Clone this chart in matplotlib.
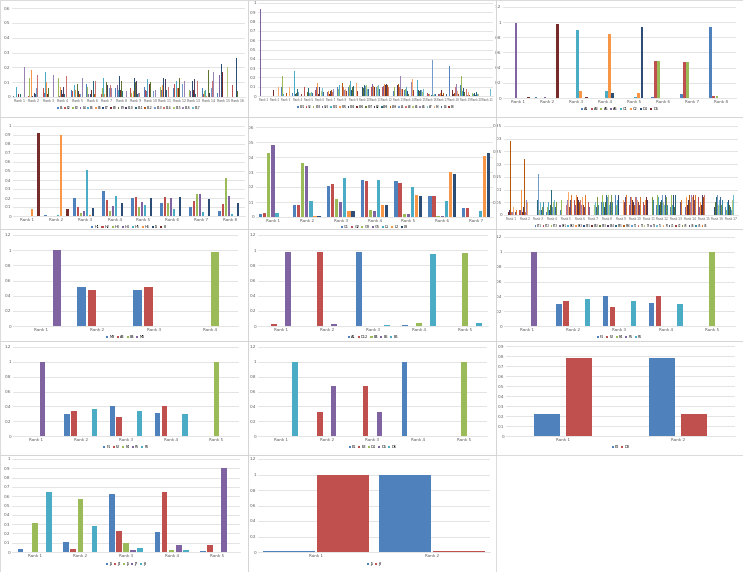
# Excel-style grid of clustered bar charts
import numpy as np
import matplotlib.pyplot as plt
from matplotlib.patches import Rectangle

W, H = 743, 572

# Excel 2010 series colours
base = ['#4F81BD', '#C0504D', '#9BBB59', '#8064A2', '#4BACC6', '#F79646']
dark = ['#2C4D75', '#772C2A', '#5F7530', '#4D3B62', '#276A7C', '#B65708']
light = ['#729ACA', '#CD7371', '#AFC97A', '#9983B5', '#6FBDD1', '#F9AB6B']
mid = ['#3C6494', '#9A3D3A', '#7A9747', '#654F84', '#3A8DA1', '#DB7A2C']
palette = base + dark + light + mid

# ---- panel 1 : 16 ranks x 17 series (rows = ranks)
p1_ranks = ['Rank %d' % i for i in range(1, 17)]
p1_labels = ['E1', 'E2', 'E3', 'E4', 'E5', 'E6', 'E7', 'E8', 'E9', 'E10',
             'E11', 'E12', 'E13', 'E14', 'E15', 'E16', 'E17']
p1_rows = [
    [0.01, 0.00, 0.04, 0.00, 0.07, 0.54, 0.00, 0.02, 0.00, 0.01, 0.02, 0.00, 0.00, 0.10, 0.00, 0.20, 0.00],
    [0.02, 0.01, 0.13, 0.01, 0.22, 0.18, 0.01, 0.01, 0.04, 0.03, 0.02, 0.00, 0.06, 0.15, 0.00, 0.19, 0.00],
    [0.00, 0.06, 0.17, 0.03, 0.17, 0.10, 0.03, 0.02, 0.06, 0.06, 0.00, 0.00, 0.00, 0.15, 0.00, 0.15, 0.00],
    [0.11, 0.02, 0.13, 0.01, 0.13, 0.07, 0.05, 0.02, 0.08, 0.07, 0.02, 0.00, 0.00, 0.14, 0.00, 0.13, 0.00],
    [0.05, 0.04, 0.11, 0.02, 0.08, 0.05, 0.01, 0.03, 0.09, 0.04, 0.05, 0.02, 0.02, 0.10, 0.00, 0.13, 0.00],
    [0.09, 0.02, 0.07, 0.02, 0.12, 0.02, 0.02, 0.05, 0.06, 0.11, 0.11, 0.02, 0.05, 0.11, 0.00, 0.09, 0.00],
    [0.06, 0.02, 0.06, 0.14, 0.13, 0.02, 0.06, 0.11, 0.10, 0.08, 0.02, 0.00, 0.06, 0.08, 0.00, 0.06, 0.00],
    [0.06, 0.03, 0.02, 0.08, 0.05, 0.03, 0.14, 0.05, 0.11, 0.11, 0.04, 0.00, 0.04, 0.07, 0.00, 0.04, 0.00],
    [0.06, 0.06, 0.03, 0.04, 0.12, 0.04, 0.13, 0.07, 0.10, 0.11, 0.02, 0.00, 0.03, 0.03, 0.00, 0.03, 0.00],
    [0.07, 0.05, 0.03, 0.04, 0.12, 0.03, 0.10, 0.09, 0.10, 0.12, 0.02, 0.00, 0.04, 0.04, 0.00, 0.05, 0.00],
    [0.08, 0.04, 0.07, 0.05, 0.12, 0.08, 0.13, 0.10, 0.08, 0.12, 0.05, 0.03, 0.06, 0.07, 0.00, 0.07, 0.00],
    [0.06, 0.09, 0.07, 0.06, 0.11, 0.06, 0.13, 0.06, 0.13, 0.07, 0.07, 0.00, 0.09, 0.08, 0.00, 0.11, 0.00],
    [0.06, 0.09, 0.05, 0.04, 0.08, 0.02, 0.11, 0.05, 0.15, 0.12, 0.02, 0.00, 0.08, 0.11, 0.00, 0.14, 0.00],
    [0.06, 0.02, 0.04, 0.11, 0.05, 0.01, 0.16, 0.08, 0.18, 0.03, 0.17, 0.00, 0.06, 0.11, 0.00, 0.17, 0.00],
    [0.03, 0.16, 0.00, 0.15, 0.00, 0.00, 0.22, 0.17, 0.05, 0.00, 0.00, 0.00, 0.00, 0.00, 0.20, 0.00, 0.00],
    [0.00, 0.08, 0.00, 0.36, 0.00, 0.00, 0.26, 0.00, 0.04, 0.00, 0.00, 0.00, 0.00, 0.00, 0.18, 0.00, 0.00],
]

# ---- panel 2 : 21 ranks x 20 series
p2_ranks = ['Rank %d' % i for i in range(1, 22)]
p2_labels = ['B01', 'V2', 'B03', 'V25', 'B02', 'B05', 'B04', 'B06', 'B07', 'A2', 'A08', 'A09',
             'A1', 'A3', 'A5', 'A6', 'A7', 'B3', 'B4', 'B8']
p2_rows = [
    [0, 0, 0.06, 0.94, 0, 0, 0, 0, 0.01, 0, 0, 0, 0, 0, 0, 0, 0, 0, 0, 0],
    [0, 0, 0, 0, 0, 0, 0.26, 0.06, 0, 0, 0, 0, 0, 0, 0.64, 0, 0, 0.10, 0, 0],
    [0.10, 0, 0.22, 0, 0.02, 0, 0, 0, 0.47, 0.14, 0, 0.03, 0.06, 0, 0, 0, 0.03, 0.10, 0, 0],
    [0.03, 0.01, 0, 0.05, 0.27, 0.05, 0.02, 0.02, 0.03, 0.01, 0.07, 0.03, 0.04, 0.10, 0.03, 0.06, 0.05, 0.24, 0.03, 0.02],
    [0.05, 0.10, 0.04, 0.08, 0.26, 0.12, 0.03, 0.06, 0.04, 0.08, 0.09, 0.15, 0.03, 0.06, 0.03, 0.05, 0.04, 0.04, 0.03, 0.02],
    [0.06, 0.06, 0.05, 0.10, 0.12, 0.14, 0.10, 0.02, 0.05, 0.10, 0.13, 0.04, 0.08, 0.12, 0.05, 0.06, 0.09, 0.06, 0.04, 0.03],
    [0.08, 0.10, 0.06, 0.04, 0.14, 0.05, 0.07, 0.02, 0.12, 0.05, 0.10, 0.06, 0.11, 0.04, 0.09, 0.07, 0.15, 0.10, 0.05, 0.04],
    [0.10, 0.04, 0.07, 0.10, 0.12, 0.08, 0.05, 0.10, 0.06, 0.10, 0.09, 0.14, 0.06, 0.10, 0.15, 0.06, 0.10, 0.08, 0.06, 0.05],
    [0.10, 0.05, 0.12, 0.09, 0.16, 0.10, 0.06, 0.12, 0.10, 0.06, 0.11, 0.13, 0.08, 0.10, 0.12, 0.09, 0.08, 0.14, 0.07, 0.05],
    [0.11, 0.10, 0.12, 0.09, 0.13, 0.11, 0.10, 0.12, 0.09, 0.10, 0.12, 0.11, 0.11, 0.09, 0.12, 0.10, 0.08, 0.11, 0.08, 0.06],
    [0.11, 0.10, 0.12, 0.13, 0.12, 0.11, 0.12, 0.10, 0.09, 0.12, 0.11, 0.12, 0.10, 0.10, 0.11, 0.09, 0.12, 0.10, 0.08, 0.07],
    [0.12, 0.10, 0.13, 0.11, 0.12, 0.13, 0.11, 0.12, 0.10, 0.13, 0.10, 0.12, 0.11, 0.10, 0.13, 0.11, 0.14, 0.18, 0.08, 0.07],
    [0.05, 0.08, 0.10, 0.14, 0.13, 0.10, 0.05, 0.09, 0.08, 0.12, 0.10, 0.13, 0.14, 0.10, 0.08, 0.21, 0.10, 0.07, 0.12, 0.08],
    [0.06, 0.04, 0.08, 0.12, 0.10, 0.14, 0.05, 0.08, 0.02, 0.05, 0.10, 0.08, 0.13, 0.10, 0.17, 0.15, 0.05, 0.18, 0.10, 0.06],
    [0.09, 0.05, 0.05, 0.10, 0.17, 0.12, 0.06, 0.04, 0.05, 0.02, 0.06, 0.04, 0.06, 0.07, 0.04, 0.12, 0.08, 0.08, 0.07, 0.05],
    [0.06, 0.03, 0.02, 0.02, 0.05, 0.02, 0.06, 0.04, 0.02, 0.01, 0.01, 0.00, 0.39, 0.02, 0.01, 0.01, 0.02, 0.01, 0.02, 0.00],
    [0.01, 0.02, 0.11, 0.02, 0.17, 0.03, 0.02, 0.06, 0.02, 0.01, 0.04, 0.03, 0.03, 0.37, 0.04, 0.02, 0.02, 0.03, 0.02, 0.01],
    [0.32, 0.03, 0.07, 0.05, 0.05, 0.22, 0.05, 0.06, 0.27, 0.02, 0.28, 0.03, 0.05, 0.10, 0.04, 0.13, 0.04, 0.05, 0.03, 0.02],
    [0.12, 0.03, 0.22, 0.13, 0.05, 0.28, 0.09, 0.27, 0.04, 0.10, 0.03, 0.02, 0.02, 0.08, 0.12, 0.01, 0.03, 0.04, 0.02, 0.01],
    [0.04, 0.28, 0.03, 0.01, 0.02, 0.26, 0.03, 0.02, 0.01, 0.02, 0.04, 0.03, 0.02, 0.03, 0.02, 0.02, 0.01, 0.02, 0.01, 0.00],
    [0.00, 0.00, 0.02, 0.00, 0.00, 0.13, 0.00, 0.00, 0.00, 0.00, 0.00, 0.00, 0.00, 0.00, 0.00, 0.76, 0.08, 0.00, 0.00, 0.00],
]

# ---- panel 3 : 8 ranks x 8 series (rows = series)
p3_ranks = ['Rank %d' % i for i in range(1, 9)]
p3_labels = ['A1', 'A3', 'A5', 'A6', 'C1', 'C2', 'D4', 'D5']
p3_series = [
    [0.00, 0.01, 0.00, 0.00, 0.00, 0.01, 0.05, 0.94],
    [0.00, 0.00, 0.00, 0.00, 0.00, 0.49, 0.47, 0.03],
    [0.00, 0.00, 0.00, 0.00, 0.00, 0.49, 0.47, 0.03],
    [0.99, 0.01, 0.00, 0.00, 0.00, 0.00, 0.00, 0.00],
    [0.00, 0.00, 0.90, 0.09, 0.01, 0.00, 0.00, 0.00],
    [0.00, 0.00, 0.09, 0.85, 0.06, 0.00, 0.00, 0.00],
    [0.00, 0.00, 0.00, 0.06, 0.93, 0.00, 0.00, 0.00],
    [0.01, 0.98, 0.01, 0.00, 0.00, 0.00, 0.00, 0.00],
]

# ---- panel 4 : 8 ranks x 8 series
p4_ranks = ['Rank %d' % i for i in range(1, 9)]
p4_labels = ['H1', 'H2', 'H3', 'H4', 'H5', 'H6', 'I1', 'I8']
p4_series = [
    [0.00, 0.01, 0.20, 0.28, 0.20, 0.15, 0.10, 0.06],
    [0.00, 0.00, 0.10, 0.18, 0.21, 0.21, 0.17, 0.13],
    [0.00, 0.00, 0.03, 0.06, 0.10, 0.15, 0.24, 0.42],
    [0.00, 0.00, 0.06, 0.11, 0.16, 0.20, 0.25, 0.22],
    [0.00, 0.01, 0.51, 0.22, 0.12, 0.08, 0.05, 0.02],
    [0.08, 0.90, 0.01, 0.00, 0.00, 0.00, 0.00, 0.00],
    [0.00, 0.00, 0.09, 0.15, 0.20, 0.21, 0.19, 0.15],
    [0.92, 0.08, 0.00, 0.00, 0.00, 0.00, 0.00, 0.00],
]

# ---- panel 5 : 7 ranks x 7 series
p5_ranks = ['Rank %d' % i for i in range(1, 8)]
p5_labels = ['G1', 'G2', 'G3', 'G5', 'L1', 'L2', 'L8']
p5_series = [
    [0.02, 0.08, 0.21, 0.25, 0.24, 0.14, 0.06],
    [0.03, 0.08, 0.22, 0.24, 0.23, 0.14, 0.06],
    [0.43, 0.36, 0.12, 0.05, 0.02, 0.01, 0.00],
    [0.48, 0.34, 0.10, 0.04, 0.02, 0.01, 0.00],
    [0.03, 0.11, 0.26, 0.25, 0.20, 0.11, 0.04],
    [0.00, 0.01, 0.04, 0.08, 0.15, 0.30, 0.41],
    [0.00, 0.01, 0.04, 0.08, 0.14, 0.29, 0.43],
]

# ---- panel 6 : 17 ranks x 24 series (rows = ranks)
p6_ranks = ['Rank %d' % i for i in range(1, 18)]
p6_labels = ['B71', 'B72', 'B73', 'B81', 'B82', 'B83', 'B91', 'B92', 'B93', 'B94', 'B95', 'B96',
             'T1', 'T2', 'T3', 'T4', 'T5', 'T6', 'U1', 'U2', 'U3', 'U4', 'U5', 'U6']
p6_rows = [
    [0.02, 0.01, 0.01, 0.27, 0.01, 0.04, 0.01, 0.01, 0.00, 0.02, 0.01, 0.29, 0.00, 0.01, 0.02, 0.01, 0.00, 0.03, 0.01, 0.00, 0.02, 0.01, 0.03, 0.02],
    [0.00, 0.02, 0.07, 0.02, 0.00, 0.10, 0.00, 0.01, 0.02, 0.03, 0.21, 0.22, 0.02, 0.01, 0.03, 0.06, 0.04, 0.05, 0.01, 0.00, 0.02, 0.01, 0.03, 0.04],
    [0.00, 0.02, 0.03, 0.04, 0.00, 0.13, 0.00, 0.02, 0.03, 0.04, 0.06, 0.15, 0.16, 0.04, 0.02, 0.09, 0.05, 0.06, 0.02, 0.01, 0.03, 0.04, 0.05, 0.06],
    [0.01, 0.02, 0.03, 0.03, 0.05, 0.13, 0.02, 0.03, 0.04, 0.05, 0.10, 0.12, 0.03, 0.04, 0.05, 0.09, 0.06, 0.07, 0.03, 0.02, 0.05, 0.06, 0.04, 0.08],
    [0.02, 0.03, 0.06, 0.05, 0.07, 0.12, 0.03, 0.04, 0.06, 0.05, 0.08, 0.09, 0.05, 0.04, 0.07, 0.06, 0.07, 0.09, 0.04, 0.03, 0.05, 0.06, 0.07, 0.08],
    [0.03, 0.06, 0.07, 0.04, 0.08, 0.08, 0.03, 0.07, 0.05, 0.06, 0.07, 0.05, 0.08, 0.06, 0.05, 0.04, 0.08, 0.07, 0.05, 0.04, 0.08, 0.03, 0.06, 0.08],
    [0.04, 0.05, 0.08, 0.03, 0.07, 0.08, 0.06, 0.05, 0.04, 0.07, 0.08, 0.06, 0.08, 0.05, 0.04, 0.07, 0.05, 0.08, 0.03, 0.06, 0.07, 0.05, 0.04, 0.08],
    [0.05, 0.04, 0.08, 0.06, 0.05, 0.08, 0.03, 0.08, 0.05, 0.06, 0.08, 0.04, 0.07, 0.05, 0.08, 0.06, 0.04, 0.07, 0.05, 0.03, 0.08, 0.06, 0.05, 0.08],
    [0.08, 0.05, 0.04, 0.08, 0.06, 0.03, 0.08, 0.05, 0.08, 0.04, 0.06, 0.08, 0.05, 0.03, 0.07, 0.08, 0.04, 0.06, 0.08, 0.05, 0.03, 0.07, 0.06, 0.08],
    [0.07, 0.04, 0.06, 0.07, 0.05, 0.07, 0.04, 0.06, 0.07, 0.05, 0.07, 0.04, 0.06, 0.07, 0.05, 0.07, 0.04, 0.06, 0.07, 0.05, 0.07, 0.04, 0.06, 0.07],
    [0.06, 0.05, 0.07, 0.04, 0.07, 0.06, 0.05, 0.07, 0.04, 0.06, 0.07, 0.05, 0.07, 0.04, 0.06, 0.07, 0.05, 0.07, 0.04, 0.06, 0.07, 0.05, 0.06, 0.07],
    [0.04, 0.06, 0.08, 0.05, 0.07, 0.06, 0.04, 0.08, 0.05, 0.07, 0.06, 0.04, 0.08, 0.06, 0.05, 0.07, 0.04, 0.06, 0.08, 0.05, 0.07, 0.06, 0.04, 0.07],
    [0.03, 0.05, 0.08, 0.06, 0.04, 0.07, 0.08, 0.05, 0.03, 0.07, 0.08, 0.06, 0.04, 0.08, 0.05, 0.07, 0.03, 0.08, 0.06, 0.04, 0.07, 0.05, 0.08, 0.06],
    [0.05, 0.08, 0.06, 0.03, 0.08, 0.07, 0.05, 0.04, 0.08, 0.06, 0.03, 0.08, 0.07, 0.05, 0.04, 0.08, 0.06, 0.07, 0.03, 0.08, 0.05, 0.06, 0.04, 0.08],
    [0.04, 0.07, 0.08, 0.03, 0.07, 0.05, 0.08, 0.04, 0.06, 0.08, 0.03, 0.07, 0.05, 0.08, 0.04, 0.08, 0.06, 0.03, 0.08, 0.05, 0.07, 0.04, 0.06, 0.05],
    [0.03, 0.05, 0.06, 0.04, 0.08, 0.06, 0.03, 0.10, 0.05, 0.04, 0.07, 0.03, 0.08, 0.05, 0.04, 0.08, 0.06, 0.03, 0.07, 0.05, 0.04, 0.08, 0.06, 0.05],
    [0.03, 0.04, 0.02, 0.07, 0.05, 0.03, 0.06, 0.10, 0.04, 0.05, 0.03, 0.04, 0.02, 0.07, 0.06, 0.04, 0.08, 0.09, 0.10, 0.03, 0.05, 0.06, 0.04, 0.02],
]

# ---- panels 7-14 (rows = series)
p7_ranks = ['Rank 1', 'Rank 2', 'Rank 3', 'Rank 4']
p7_labels = ['M3', 'A4', 'B4', 'M5']
p7_series = [[0, 0.52, 0.47, 0], [0, 0.47, 0.52, 0], [0, 0, 0, 0.98], [1.0, 0, 0, 0]]

p8_ranks = ['Rank 1', 'Rank 2', 'Rank 3', 'Rank 4', 'Rank 5']
p8_labels = ['A1', 'D12', 'B4', 'B5', 'B6']
p8_series = [[0, 0, 0.98, 0.01, 0], [0.03, 0.97, 0, 0, 0], [0, 0, 0, 0.04, 0.96],
             [0.97, 0.03, 0, 0, 0], [0, 0, 0.01, 0.95, 0.04]]

p9_ranks = ['Rank 1', 'Rank 2', 'Rank 3', 'Rank 4', 'Rank 5']
p9_labels = ['F1', 'F2', 'F4', 'F5', 'F6']
p9_series = [[0, 0.29, 0.40, 0.31, 0], [0, 0.34, 0.26, 0.40, 0], [0, 0, 0, 0, 1.0],
             [1.0, 0, 0, 0, 0], [0, 0.37, 0.34, 0.29, 0]]

p10_ranks = ['Rank 1', 'Rank 2', 'Rank 3', 'Rank 4', 'Rank 5']
p10_labels = ['F1', 'F2', 'F4', 'F5', 'F6']
p10_series = [[0, 0.29, 0.40, 0.31, 0], [0, 0.34, 0.26, 0.40, 0], [0, 0, 0, 0, 1.0],
              [1.0, 0, 0, 0, 0], [0, 0.37, 0.34, 0.29, 0]]

p11_ranks = ['Rank 1', 'Rank 2', 'Rank 3', 'Rank 4', 'Rank 5']
p11_labels = ['E1', 'E3', 'D4', 'D5', 'D6']
p11_series = [[0, 0, 0, 1.0, 0], [0, 0.32, 0.68, 0, 0], [0, 0, 0, 0, 1.0],
              [0, 0.68, 0.32, 0, 0], [1.0, 0, 0, 0, 0]]

p12_ranks = ['Rank 1', 'Rank 2']
p12_labels = ['E2', 'D8']
p12_series = [[0.22, 0.78], [0.78, 0.22]]

p13_ranks = ['Rank 1', 'Rank 2', 'Rank 3', 'Rank 4', 'Rank 5']
p13_labels = ['J1', 'J4', 'J5', 'J7', 'J8']
p13_series = [[0.03, 0.11, 0.62, 0.21, 0.01], [0.00, 0.03, 0.23, 0.65, 0.07],
              [0.31, 0.57, 0.10, 0.02, 0.00], [0.00, 0.00, 0.02, 0.08, 0.90],
              [0.65, 0.28, 0.04, 0.02, 0.00]]

p14_ranks = ['Rank 1', 'Rank 2']
p14_labels = ['J5', 'J8']
p14_series = [[0.01, 1.0], [1.0, 0.01]]


fig = plt.figure(figsize=(W / 100, H / 100), dpi=100)
fig.patch.set_facecolor('white')

# light frames round each tile
for x0, x1 in [(0, 248), (248, 496), (496, 743)]:
    for y0, y1 in [(0, 117), (117, 229), (229, 341), (341, 455), (455, 572)]:
        if x0 == 496 and y0 == 455:
            continue
        fig.add_artist(Rectangle((x0 / W, 1 - y1 / H), (x1 - x0) / W, (y1 - y0) / H,
                                 transform=fig.transFigure, fill=False,
                                 edgecolor='#D4D4D4', lw=0.6))


def panel(box, ranks, labels, series, ymax, ystep, leg_y, span=0.85, fill=0.8,
          xfs=3, lfs=2.5):
    x0, y0, x1, y1 = box
    ax = fig.add_axes([x0 / W, 1 - y1 / H, (x1 - x0) / W, (y1 - y0) / H])
    n = len(series)
    sp = span / n
    xs = np.arange(len(ranks))
    for i, vals in enumerate(series):
        ax.bar(xs + (i - (n - 1) / 2) * sp, vals, sp * fill,
               color=palette[i % len(palette)], label=labels[i], lw=0)
    ax.set_xlim(-0.5, len(ranks) - 0.5)
    ax.set_ylim(0, ymax)
    ticks = np.arange(0, ymax + ystep / 2, ystep)
    ax.set_yticks(ticks)
    ax.set_yticklabels(['%g' % round(t, 2) for t in ticks])
    ax.set_xticks(xs)
    ax.set_xticklabels(ranks)
    ax.tick_params(length=0, labelsize=3, colors='#595959', pad=1.5)
    ax.tick_params(axis='x', labelsize=xfs)
    ax.yaxis.grid(True, color='#D9D9D9', lw=0.5)
    ax.set_axisbelow(True)
    for s in ['top', 'right', 'left']:
        ax.spines[s].set_visible(False)
    ax.spines['bottom'].set_color('#D9D9D9')
    ax.spines['bottom'].set_linewidth(0.5)
    cs = 0.6 if n < 12 else 0.35
    ax.legend(loc='center', bbox_to_anchor=(0.5, (y1 - leg_y) / (y1 - y0)),
              ncol=n, fontsize=lfs, frameon=False, handlelength=0.6,
              handleheight=0.6, handletextpad=0.3, columnspacing=cs)
    return ax


panel((12, 8, 245, 97), p1_ranks, p1_labels, np.array(p1_rows).T, 0.6, 0.1, 108,
      xfs=2.3, lfs=2.2)
panel((258, 3, 493, 96), p2_ranks, p2_labels, np.array(p2_rows).T, 1.0, 0.1, 107,
      xfs=1.9, lfs=2.0)
panel((503, 7, 736, 98), p3_ranks, p3_labels, p3_series, 1.2, 0.2, 109)
panel((13, 126, 245, 216), p4_ranks, p4_labels, p4_series, 1.0, 0.1, 227)
panel((256, 127, 493, 217), p5_ranks, p5_labels, p5_series, 0.6, 0.1, 227)
panel((504, 126, 738, 215), p6_ranks, p6_labels, np.array(p6_rows).T, 0.35, 0.05, 226,
      xfs=2.1, lfs=1.8)
panel((13, 235, 238, 326), p7_ranks, p7_labels, p7_series, 1.2, 0.2, 337, span=0.76)
panel((258, 235, 488, 326), p8_ranks, p8_labels, p8_series, 1.2, 0.2, 337, span=0.76)
panel((504, 237, 735, 326), p9_ranks, p9_labels, p9_series, 1.2, 0.2, 337, span=0.76)
panel((13, 347, 239, 436), p10_ranks, p10_labels, p10_series, 1.2, 0.2, 447, span=0.76)
panel((258, 347, 487, 436), p11_ranks, p11_labels, p11_series, 1.2, 0.2, 447, span=0.76)
panel((506, 346, 735, 436), p12_ranks, p12_labels, p12_series, 0.9, 0.1, 447, span=0.56)
panel((12, 459, 240, 552), p13_ranks, p13_labels, p13_series, 1.0, 0.1, 564, span=0.78)
panel((258, 459, 490, 552), p14_ranks, p14_labels, p14_series, 1.2, 0.2, 564, span=0.94, fill=0.95)

fig.savefig('out.png', dpi=100)
